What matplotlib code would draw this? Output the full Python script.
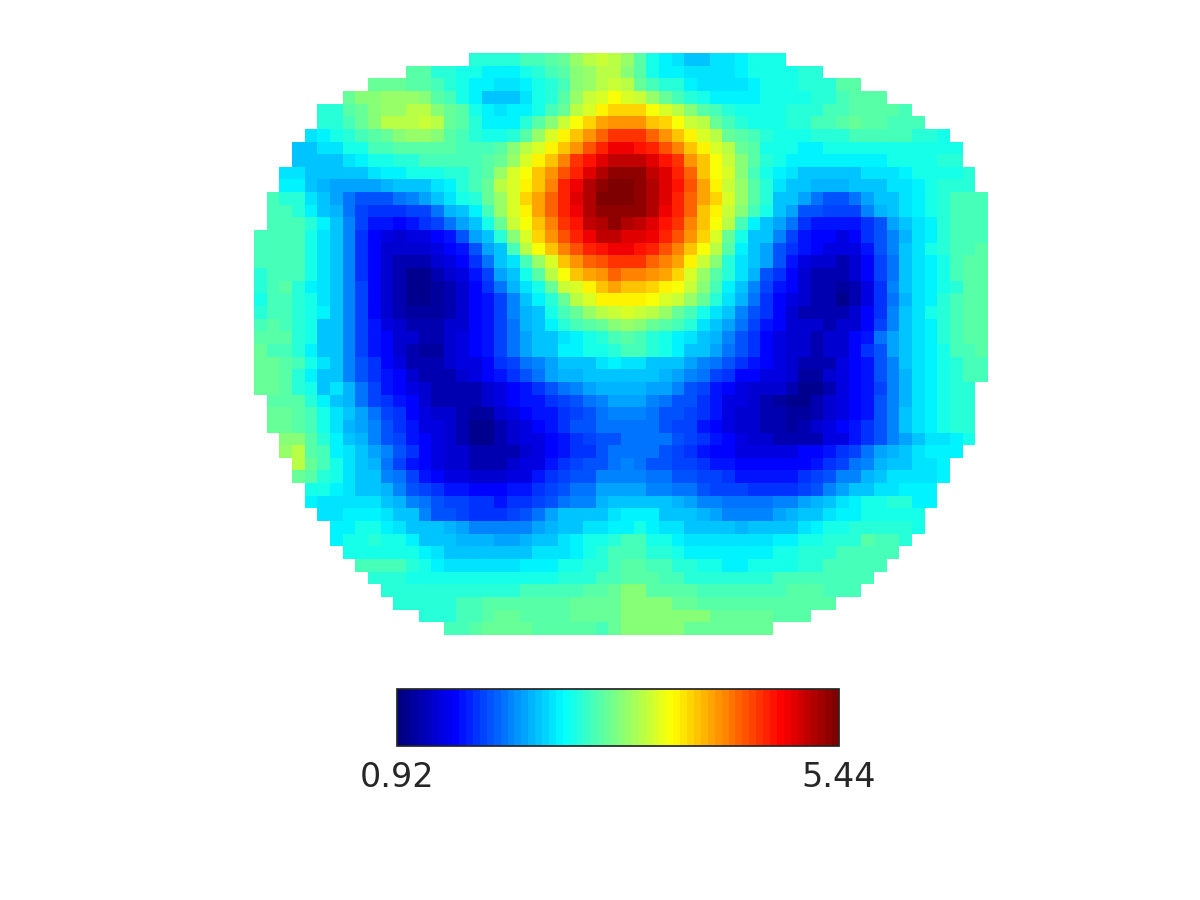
import numpy as np
import matplotlib
matplotlib.use('Agg')
import matplotlib.pyplot as plt
from matplotlib.colors import LinearSegmentedColormap

# first occupied column of each grid row (the disc shape)
row_start = [17, 12, 9, 7, 5, 5, 4, 3, 3, 2, 2, 1, 1, 1,
             0, 0, 0, 0, 0, 0, 0, 0, 0, 0, 0, 0, 0,
             1, 1, 1, 2, 2, 3, 3, 4, 4, 5, 6, 6, 7, 8, 9, 10, 11, 13, 15]

# cell values, in tenths
cell_rows = [
    [28,28,28,28,29,29,30,31,33,34,35,34,33,30,27,26,25,24,24,25,25,26,27,27,27],
    [30,30,28,28,27,27,26,26,26,27,28,29,30,32,33,34,34,32,30,27,26,26,25,25,25,25,26,27,27,27,27,28,28],
    [31,31,31,30,30,29,28,27,26,26,25,25,26,27,28,29,32,33,34,35,34,31,29,28,28,26,25,25,25,25,26,27,27,27,28,28,28,30,30],
    [31,32,32,33,33,33,32,30,29,27,26,24,24,24,25,27,28,30,33,35,36,37,36,35,33,31,29,28,27,26,26,26,26,27,27,27,27,28,28,29,30,30,30],
    [28,28,30,31,32,33,33,34,34,32,31,30,27,26,25,26,26,27,29,31,34,36,38,39,39,39,37,36,34,32,30,29,28,27,27,27,27,28,28,28,29,29,30,30,30,30,29],
    [28,28,29,31,32,34,34,34,35,34,31,30,28,26,26,26,28,30,32,35,37,39,41,42,42,42,40,39,37,35,34,31,29,28,27,27,27,28,28,29,29,30,31,30,30,29,29,29],
    [25,26,27,28,29,30,31,32,33,33,32,30,29,28,27,27,28,30,33,36,38,40,42,44,46,46,46,44,42,40,38,36,34,31,30,29,28,27,27,27,28,28,28,29,29,29,29,29,28,28,27],
    [24,24,25,25,27,27,29,29,30,30,30,30,30,29,29,29,30,32,34,36,38,40,42,45,47,49,49,48,47,45,43,40,38,36,34,31,30,27,27,27,26,26,27,27,27,27,27,27,27,27,27,27,27],
    [24,24,24,24,25,26,27,27,28,28,29,29,29,29,29,30,31,33,36,38,40,43,46,48,50,51,51,51,50,48,46,42,40,37,35,32,30,28,27,26,26,26,26,26,26,26,26,27,27,27,27,28,28],
    [25,25,24,24,24,24,24,25,26,26,27,27,27,28,28,29,30,33,36,37,40,42,45,47,50,52,53,53,53,51,50,47,44,40,37,36,32,29,27,26,25,24,24,24,24,24,25,25,25,26,27,27,27,27,28],
    [26,26,24,23,22,22,22,22,23,24,24,24,25,26,28,29,31,34,36,38,40,43,47,49,52,53,54,54,53,52,50,48,45,41,38,35,33,30,28,25,24,24,23,23,23,24,24,24,25,25,26,27,28,28,28],
    [29,28,28,25,24,22,20,19,19,19,20,21,22,24,25,27,28,31,33,36,39,41,44,47,50,52,54,54,54,53,52,50,47,44,41,39,36,33,30,28,24,24,22,20,19,19,20,22,24,24,25,26,27,28,29,29,29],
    [29,29,28,26,24,23,20,18,17,17,17,18,18,20,23,24,26,29,33,36,38,41,44,47,49,52,53,53,53,53,52,49,47,44,40,38,35,32,29,27,24,22,19,19,18,18,18,21,23,24,25,26,27,28,29,29,29],
    [29,29,29,28,26,24,21,18,16,16,15,16,17,18,20,22,24,27,31,35,37,40,43,46,48,51,52,53,52,51,50,48,46,43,40,37,34,29,26,24,22,20,17,16,16,16,16,17,19,22,24,25,26,28,29,29,29],
    [29,29,29,29,27,25,24,21,17,15,14,13,14,14,15,16,19,22,24,28,32,36,39,42,45,47,49,51,51,50,50,49,47,45,42,39,36,31,27,24,24,21,18,16,15,15,14,15,17,19,21,23,25,26,28,29,29,29],
    [29,29,29,29,27,25,24,21,17,15,13,13,13,13,14,15,16,19,22,24,29,34,37,40,43,45,47,48,49,49,48,47,45,43,40,37,34,30,26,24,22,19,17,16,15,14,14,14,16,19,21,24,25,27,28,29,29,30],
    [29,29,29,29,27,25,24,21,17,15,13,12,12,12,13,14,15,17,20,24,25,29,33,36,40,42,44,45,46,46,46,44,43,41,38,35,32,28,25,24,22,19,16,14,13,13,12,13,15,18,20,24,25,26,27,29,30,30],
    [28,29,29,29,27,25,24,21,17,15,13,12,10,10,12,13,14,16,18,22,24,27,30,34,37,40,41,42,44,43,43,42,41,39,36,33,30,28,25,23,19,17,15,13,12,12,12,13,15,18,20,24,25,26,27,29,30,30],
    [28,29,30,28,26,25,24,21,18,15,13,12,10,10,11,12,13,15,17,20,23,25,27,31,35,36,38,40,41,40,40,39,38,37,35,32,29,26,24,21,18,16,15,13,12,12,11,12,14,17,21,24,25,26,27,28,30,30],
    [27,29,29,28,27,25,24,21,18,15,13,12,10,10,11,12,13,15,16,18,21,24,26,28,31,34,36,38,38,38,38,37,36,35,33,31,28,25,23,20,17,15,14,13,12,12,10,12,14,17,20,23,25,26,28,29,30,30],
    [28,29,29,28,27,26,24,21,18,15,13,12,11,11,11,12,13,15,16,18,21,23,24,27,29,31,33,34,35,36,35,34,33,31,29,27,25,24,21,19,17,15,13,12,12,12,12,13,15,17,21,24,25,27,28,29,30,30],
    [29,30,29,28,27,24,24,21,18,16,14,13,12,12,12,13,13,15,16,18,20,23,24,26,28,29,30,31,32,33,32,31,30,29,28,25,24,22,20,18,16,15,13,13,13,12,13,13,15,18,21,24,25,26,28,29,30,30],
    [30,30,30,28,27,24,24,21,18,16,15,13,13,12,12,13,14,15,16,18,20,22,24,24,25,26,27,28,29,30,29,28,27,26,25,24,23,21,19,17,15,14,13,13,12,13,13,15,16,20,22,24,25,26,28,29,30,30],
    [31,29,29,28,26,24,24,21,18,16,15,13,12,11,11,13,14,15,16,18,20,22,24,24,26,26,27,27,28,29,29,28,27,26,24,24,22,20,19,17,15,14,13,13,12,13,13,15,17,19,22,24,25,26,27,29,29,30],
    [31,31,30,29,27,25,24,21,19,17,15,14,12,12,12,13,14,14,15,17,18,20,21,22,24,24,24,25,26,25,25,24,24,24,22,21,20,19,17,16,15,14,13,12,12,12,14,15,16,19,21,24,25,26,27,28,29,29],
    [31,31,30,28,26,24,24,21,19,17,16,15,13,12,12,12,13,14,15,16,17,19,20,22,23,23,24,24,24,24,24,24,23,22,21,20,18,17,15,15,14,14,13,11,11,13,14,15,16,19,21,23,25,26,27,28,29,29],
    [31,31,30,28,27,24,25,23,20,18,16,15,14,13,12,12,12,12,13,14,15,16,17,19,20,21,22,23,23,23,23,22,22,21,19,18,16,15,14,13,13,13,12,10,10,12,14,15,16,18,21,23,25,26,27,28,28],
    [30,30,30,28,26,24,23,20,18,17,16,15,13,12,12,12,12,13,14,15,16,16,17,18,19,20,21,22,22,22,21,20,19,19,17,16,14,14,13,12,11,10,10,12,13,14,15,16,19,21,23,25,26,27,28,28],
    [31,31,30,29,27,25,24,22,20,18,17,15,14,13,13,12,11,11,13,14,15,16,16,17,18,19,20,21,21,21,20,19,19,18,17,16,14,13,13,12,12,11,11,12,13,14,15,16,19,21,24,25,26,27,28,28],
    [31,31,30,29,27,25,23,22,21,19,17,16,14,14,13,12,10,10,12,13,14,15,16,17,19,19,20,20,20,20,20,19,18,18,16,15,14,13,13,12,12,11,12,13,14,15,16,17,19,21,24,25,26,27,28,28],
    [32,32,30,28,26,24,23,21,19,18,16,15,14,13,12,10,10,12,13,14,14,15,16,17,18,19,19,20,20,20,20,19,18,17,16,15,14,13,13,12,12,12,12,14,14,16,17,19,21,22,24,25,25,26,27],
    [33,34,30,29,26,25,24,22,21,19,17,15,14,13,13,12,12,12,12,13,14,15,16,17,17,19,20,20,20,20,19,18,17,16,15,15,14,14,14,14,14,15,15,16,17,18,20,22,23,24,25,26,26,26],
    [34,31,29,27,25,24,23,20,18,16,15,14,13,13,12,12,12,13,14,14,16,17,18,19,19,20,21,20,19,19,18,18,17,16,16,15,15,15,15,15,15,16,17,18,20,21,23,24,24,25,25,26],
    [31,30,28,27,25,24,24,21,20,18,16,15,14,14,13,13,13,14,14,16,17,18,19,19,21,21,21,21,20,20,19,19,18,18,17,16,16,16,16,16,17,18,19,21,21,23,24,25,25,25,25,26],
    [27,27,26,25,24,24,23,21,19,18,17,16,16,15,15,15,16,16,17,18,19,20,20,22,22,22,22,21,21,20,20,19,18,18,18,17,17,17,17,18,19,21,22,24,24,25,25,26,26,26],
    [26,25,25,25,25,25,24,23,21,20,19,18,18,17,17,16,17,17,18,19,20,21,21,23,24,24,24,24,24,23,22,21,21,20,20,20,20,21,21,22,23,24,25,26,27,27,28,28,26,26],
    [25,25,26,26,26,25,24,24,21,19,19,18,17,17,17,18,19,20,22,24,24,24,24,25,26,26,26,24,24,24,23,22,21,21,21,21,22,23,24,24,25,26,26,27,27,27,27,27],
    [26,26,27,27,26,25,24,24,24,23,22,21,21,21,21,21,22,23,24,24,25,25,26,26,27,26,25,25,24,24,24,24,23,24,24,24,24,25,26,27,27,28,28,28,28,28,27],
    [26,27,27,28,27,27,26,24,24,24,23,23,23,22,22,23,24,24,25,26,27,27,28,29,29,27,27,26,25,25,25,25,25,25,25,26,26,27,27,28,28,28,30,29,29,28],
    [27,27,27,27,27,27,26,25,24,24,24,24,24,24,24,25,25,25,26,27,28,29,29,29,28,28,27,26,26,26,26,26,26,26,27,27,28,28,28,29,29,29,29,29],
    [29,29,29,29,28,27,26,25,25,25,25,25,25,26,26,26,27,27,28,28,29,30,30,29,29,28,28,27,27,26,26,27,27,27,27,28,28,29,29,29,29,29],
    [28,28,28,27,27,27,27,27,27,27,27,27,27,27,27,28,28,28,29,29,30,30,30,29,29,28,28,28,28,28,28,28,29,29,29,29,29,29,29,29],
    [28,28,28,28,28,28,28,28,28,28,28,29,29,29,29,29,30,30,31,32,32,30,30,30,30,29,29,29,29,29,29,29,30,30,30,29,29,29],
    [28,28,28,28,28,29,29,30,30,30,30,30,30,30,31,31,31,31,32,32,32,32,31,31,30,30,30,30,30,30,30,30,30,30,30],
    [28,28,28,29,29,30,31,31,30,30,30,30,31,31,31,31,32,32,32,32,32,32,32,31,31,31,31,31,30,30,30],
    [29,29,30,31,31,31,31,30,30,30,30,30,29,31,32,32,32,32,32,31,31,31,31,31,31,31],
]

bar_min = 0.92
bar_max = 5.44
bar_labels = ['0.92', '5.44']
n_cols = 58

grid = np.full((len(cell_rows), n_cols), np.nan)
for r, vals in enumerate(cell_rows):
    grid[r, row_start[r]:row_start[r] + len(vals)] = np.array(vals) / 10.0

# jet with evenly spaced knots, 64 bands
cmap = LinearSegmentedColormap.from_list('jet64', [
    (0.0, (0, 0, 0.5)), (0.125, (0, 0, 1)), (0.375, (0, 1, 1)),
    (0.625, (1, 1, 0)), (0.875, (1, 0, 0)), (1.0, (0.5, 0, 0))], N=64)

fig = plt.figure(figsize=(12, 9), dpi=100)
ax = fig.add_axes([254 / 1200, 1 - 635 / 900, 734 / 1200, 582 / 900])
im = ax.imshow(grid, cmap=cmap, vmin=bar_min, vmax=bar_max, aspect='auto', interpolation='nearest')
ax.axis('off')

cax = fig.add_axes([397 / 1200, 1 - 746 / 900, 442 / 1200, 57 / 900])
cb = fig.colorbar(im, cax=cax, orientation='horizontal', ticks=[bar_min, bar_max])
cb.ax.set_xticklabels(bar_labels)
cb.ax.tick_params(length=0, pad=11, labelsize=24, labelcolor='#262626')
cb.outline.set_edgecolor('#262626')
cb.outline.set_linewidth(1.25)

fig.savefig('out.png', dpi=100)
